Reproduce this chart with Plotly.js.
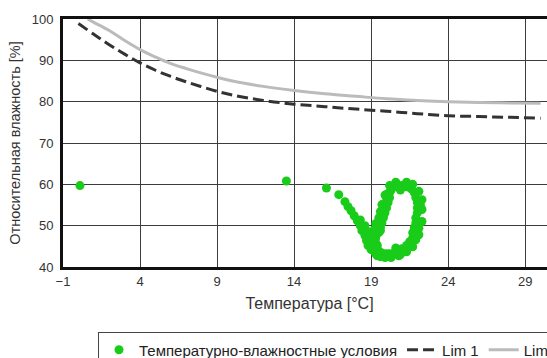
<!DOCTYPE html>
<html><head><meta charset="utf-8">
<script src="https://cdn.plot.ly/plotly-3.0.1.min.js"></script>
<style>html,body{margin:0;padding:0;overflow:hidden;background:#fff;width:547px;height:358px}#chart{width:700px;height:450px}</style>
</head><body><div id="chart"></div>
<script>
// Temperature / humidity measurements
const tempX = [0.1, 13.5, 16.1,
  16.9, 17.3, 17.5, 17.7, 17.9, 18.1, 18.3, 18.4, 18.6, 18.7, 18.8, 19.0, 19.3, 19.6,
  18.3, 18.6, 18.8, 18.9, 19.1, 19.3,
  20.4, 20.7, 21.0, 21.3, 21.6, 21.8, 21.9, 22.0, 22.0, 22.0, 21.9, 21.9, 21.8, 21.7, 21.7, 21.5, 21.3, 21.0, 20.8, 20.5, 20.2, 20.0, 19.7, 19.5, 19.3, 19.3, 19.3, 19.5, 19.6, 19.7, 19.8, 19.9, 20.0, 20.1, 20.2, 20.2,
  19.7, 19.6, 19.5, 19.3, 19.2, 19.1, 19.0,
  20.2, 20.6, 21.3, 21.7, 22.1, 22.3, 22.3, 22.3, 22.1, 21.7, 21.3, 20.8, 20.3, 19.9, 19.4,
  19.9, 20.0, 20.1, 20.3, 19.8, 19.6, 19.4, 20.9, 21.6, 21.1, 20.6,
  22.2, 22.1, 21.9, 21.5, 20.9];
const humidY = [59.7, 60.8, 59.1,
  57.5, 55.8, 54.6, 53.6, 52.4, 51.2, 50.0, 48.8, 47.6, 46.4, 45.2, 44.2, 43.2, 42.5,
  51.4, 50.0, 48.5, 47.1, 45.6, 44.4,
  59.2, 59.7, 59.7, 59.4, 58.9, 58.0, 56.8, 55.6, 54.3, 53.1, 51.9, 50.7, 49.5, 48.3, 47.1, 46.1, 45.2, 44.4, 43.9, 43.4, 43.2, 43.2, 43.4, 43.9, 44.9, 45.9, 47.1, 48.3, 49.5, 50.7, 51.9, 53.1, 54.3, 55.6, 56.8, 58.0,
  55.1, 53.4, 51.9, 50.5, 49.0, 47.6, 46.1,
  59.7, 60.5, 60.5, 60.0, 58.3, 56.3, 53.9, 51.0, 47.8, 44.9, 43.7, 42.7, 42.3, 42.3, 42.7,
  57.4, 56.0, 57.8, 58.6, 52.6, 48.8, 45.2, 58.6, 45.8, 44.0, 44.6,
  55.0, 49.4, 46.6, 45.5, 43.0];
// Limit curves
const lim1X = [0, 1, 2, 3, 4, 5, 6, 7, 8, 9, 10, 12, 14, 16, 18, 20, 22, 24, 26, 28, 30];
const lim1Y = [98.9, 96.3, 93.8, 91.5, 89.4, 87.6, 86.1, 84.8, 83.6, 82.5, 81.6, 80.3, 79.4, 78.8, 78.2, 77.7, 77.1, 76.6, 76.4, 76.2, 76.0];
const lim2X = [0.6, 1, 2, 3, 4, 5, 6, 7, 8, 9, 10, 12, 14, 16, 18, 20, 22, 24, 26, 28, 30];
const lim2Y = [100, 99.2, 97.2, 94.8, 92.6, 90.8, 89.2, 88.0, 86.9, 85.9, 85.0, 83.7, 82.7, 81.9, 81.3, 80.7, 80.3, 80.0, 79.8, 79.7, 79.6];
const seriesNames = ['Температурно-влажностные условия', 'Lim 1', 'Lim 2'];
const xTitle = 'Температура [°C]';
const yTitle = 'Относительная влажность [%]';

const traces = [
  {x: tempX, y: humidY, name: seriesNames[0], type: 'scatter', mode: 'markers',
   marker: {color: 'rgb(25,204,25)', size: 9}},
  {x: lim1X, y: lim1Y, name: seriesNames[1], type: 'scatter', mode: 'lines',
   line: {color: 'rgb(51,51,51)', width: 3, dash: '11px,5px', shape: 'spline'}},
  {x: lim2X, y: lim2Y, name: seriesNames[2], type: 'scatter', mode: 'lines',
   line: {color: 'rgb(187,187,187)', width: 3, shape: 'spline'}}
];
const layout = {
  width: 700, height: 450,
  margin: {l: 63, r: 144, t: 19, b: 183},
  paper_bgcolor: 'rgb(255,255,255)', plot_bgcolor: 'rgb(255,255,255)',
  font: {family: '"Liberation Sans", Arial, sans-serif', color: 'rgb(51,51,51)', size: 13},
  showlegend: true,
  legend: {orientation: 'h', x: 0.071, xanchor: 'left', y: -0.264, yanchor: 'top',
    bordercolor: 'rgb(68,68,68)', borderwidth: 1, font: {size: 15, color: 'rgb(34,34,34)'},
    itemwidth: 30, tracegroupgap: 0},
  xaxis: {range: [-1, 31], tick0: -1, dtick: 5, showgrid: true, gridcolor: 'rgb(60,60,60)', gridwidth: 1,
    showline: true, linecolor: 'rgb(17,17,17)', linewidth: 3, mirror: true, zeroline: false,
    ticks: '', tickfont: {size: 13, color: 'rgb(51,51,51)'},
    title: {text: xTitle, font: {size: 16, color: 'rgb(51,51,51)'}, standoff: 11}},
  yaxis: {range: [40, 100], dtick: 10, showgrid: true, gridcolor: 'rgb(60,60,60)', gridwidth: 1,
    showline: true, linecolor: 'rgb(17,17,17)', linewidth: 3, mirror: true, zeroline: false,
    ticks: 'outside', ticklen: 4, tickcolor: 'rgba(255,255,255,0)',
    tickfont: {size: 13, color: 'rgb(51,51,51)'},
    title: {text: yTitle, font: {size: 14.5, color: 'rgb(51,51,51)'}, standoff: 8}}
};
Plotly.newPlot('chart', traces, layout, {displayModeBar: false, staticPlot: true});
</script></body></html>
